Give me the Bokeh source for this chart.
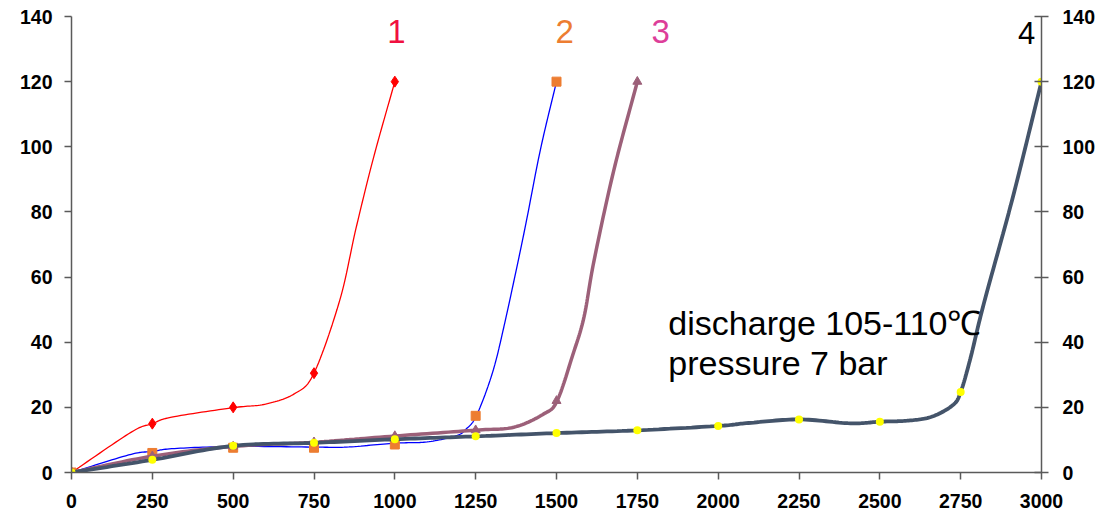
import numpy as np
from bokeh.plotting import figure
from bokeh.models import Range1d, LinearAxis, FixedTicker, Label
from bokeh.embed import file_html
from bokeh.resources import INLINE

# ---------------- data ----------------
x_ticks = list(range(0, 3001, 250))
y_ticks = list(range(0, 141, 20))

# series 1 (red, diamonds)
s1_x = [0, 250, 500, 750, 1000]
s1_y = [0, 15, 20, 30.5, 120]
s1_curve_x = [0, 185, 250, 310, 500, 600, 690, 750, 830, 880, 935, 1000]
s1_curve_y = [0, 12.4, 15, 17, 19.9, 21, 24.2, 30.5, 53, 75, 97, 120]

# series 2 (blue line, orange squares)
s2_x = [0, 250, 500, 750, 1000, 1250, 1500]
s2_y = [0, 6.0, 7.6, 7.6, 8.6, 17.4, 120]
s2_curve_x = [0, 185, 250, 310, 500, 750, 850, 1000, 1100, 1190, 1220, 1252, 1300, 1337, 1399, 1450, 1500]
s2_curve_y = [0, 5.6, 6.4, 7.3, 8.0, 7.8, 7.8, 9.0, 9.4, 11.3, 13.3, 17.4, 30, 44.6, 73.3, 99, 120]

# series 3 (mauve, triangles)
s3_x = [0, 250, 500, 750, 1000, 1250, 1500, 1750]
s3_y = [0, 5, 8, 9.3, 11.2, 13.0, 22.0, 120]
s3_curve_x = [0, 250, 500, 750, 1000, 1250, 1368, 1461, 1502, 1550, 1585, 1616, 1677, 1750]
s3_curve_y = [0, 5, 8, 9.3, 11.2, 13.0, 13.9, 18.0, 22.0, 36, 47.7, 65, 92.7, 120]

# series 4 (dark slate, yellow circles)
s4_x = [0, 250, 500, 750, 1000, 1250, 1500, 1750, 2000, 2250, 2500, 2750, 3000]
s4_y = [0, 3.9, 8.2, 9.1, 10.2, 11.1, 12.1, 12.95, 14.3, 16.3, 15.6, 24.7, 120]
s4_curve_x = [0, 250, 500, 750, 1000, 1250, 1500, 1750, 2000, 2094, 2250, 2409, 2500, 2584,
              2660, 2726, 2750, 2780, 2822, 2910, 3000]
s4_curve_y = [0, 3.9, 8.2, 9.1, 10.2, 11.1, 12.1, 12.95, 14.3, 15.2, 16.3, 15.1, 15.6, 15.9,
              17.1, 20.7, 24.7, 35, 52, 84, 120]

series_labels = ["1", "2", "3", "4"]
annotation_lines = ["discharge 105-110\u2103", "pressure 7 bar"]


def smooth(xs, ys, n=16):
    """Uniform Catmull-Rom spline through the given vertices (Excel-like smoothing)."""
    P = np.column_stack([np.asarray(xs, float), np.asarray(ys, float)])
    P = np.vstack([2 * P[0] - P[1], P, 2 * P[-1] - P[-2]])
    t = np.linspace(0, 1, n, endpoint=False)[:, None]
    out = []
    for i in range(1, len(P) - 2):
        p0, p1, p2, p3 = P[i - 1], P[i], P[i + 1], P[i + 2]
        seg = 0.5 * ((2 * p1) + (-p0 + p2) * t + (2 * p0 - 5 * p1 + 4 * p2 - p3) * t ** 2
                     + (-p0 + 3 * p1 - 3 * p2 + p3) * t ** 3)
        out.append(seg)
    out.append(P[-2][None, :])
    out = np.vstack(out)
    return out[:, 0], out[:, 1]


p = figure(width=1103, height=517, title=None,
           x_range=Range1d(0, 3000), y_range=Range1d(0, 140),
           output_backend="svg", toolbar_location=None,
           min_border_left=71, min_border_right=62, min_border_top=16, min_border_bottom=45)
p.outline_line_color = None
p.grid.visible = False
p.background_fill_color = "white"

AX_COLOR = "#5a5a5a"
TICK_FONT = "Liberation Sans"


def style_axis(ax, tin, tout, standoff):
    ax.axis_line_color = AX_COLOR
    ax.axis_line_width = 1.5
    ax.major_tick_line_color = AX_COLOR
    ax.major_tick_line_width = 1.5
    ax.major_tick_in = tin
    ax.major_tick_out = tout
    ax.minor_tick_line_color = None
    ax.major_label_text_font = TICK_FONT
    ax.major_label_text_font_style = "bold"
    ax.major_label_text_font_size = "19.5px"
    ax.major_label_text_color = "black"
    ax.major_label_standoff = standoff


p.xaxis.ticker = FixedTicker(ticks=x_ticks)
p.yaxis.ticker = FixedTicker(ticks=y_ticks)
style_axis(p.xaxis[0], 0, 7, 14)
style_axis(p.yaxis[0], 0, 7, 12)

right = LinearAxis(ticker=FixedTicker(ticks=y_ticks))
style_axis(right, 7, 7, 14)
p.add_layout(right, "right")

# series 1
cx, cy = smooth(s1_curve_x, s1_curve_y)
p.line(cx, cy, line_color="#FF0000", line_width=1.3)
p.scatter(s1_x, s1_y, marker="diamond", size=11, fill_color="#FF0000", line_color="#FF0000")

# series 2
cx, cy = smooth(s2_curve_x, s2_curve_y)
p.line(cx, cy, line_color="#0000FF", line_width=1.3)
p.scatter(s2_x, s2_y, marker="square", size=9, fill_color="#ED7D31", line_color="#ED7D31")

# series 3
cx, cy = smooth(s3_curve_x, s3_curve_y)
p.line(cx, cy, line_color="#9C6079", line_width=3.5)
p.scatter(s3_x, s3_y, marker="triangle", size=9, fill_color="#9C6079", line_color="#9C6079")

# series 4
cx, cy = smooth(s4_curve_x, s4_curve_y)
p.line(cx, cy, line_color="#44546A", line_width=3.8)
p.scatter(s4_x, s4_y, marker="circle", size=8, fill_color="#FFFF00", line_color=None)

# series number labels
label_style = [("#F01040", 1005, 135.4, "33px"), ("#ED7D31", 1525, 135.4, "33px"),
               ("#DD3E99", 1822, 135.4, "33px"), ("#000000", 2954, 134.8, "31px")]
for txt, (col, lx, ly, fs) in zip(series_labels, label_style):
    p.add_layout(Label(x=lx, y=ly, text=txt, text_color=col, text_font="Liberation Sans",
                       text_font_size=fs, text_align="center", text_baseline="alphabetic"))

for txt, ly in zip(annotation_lines, [45.8, 33.5]):
    p.add_layout(Label(x=1846, y=ly, text=txt, text_color="black", text_font="Liberation Sans",
                       text_font_size="34px", text_align="left", text_baseline="alphabetic"))

open("out.html", "w").write(file_html(p, INLINE))
